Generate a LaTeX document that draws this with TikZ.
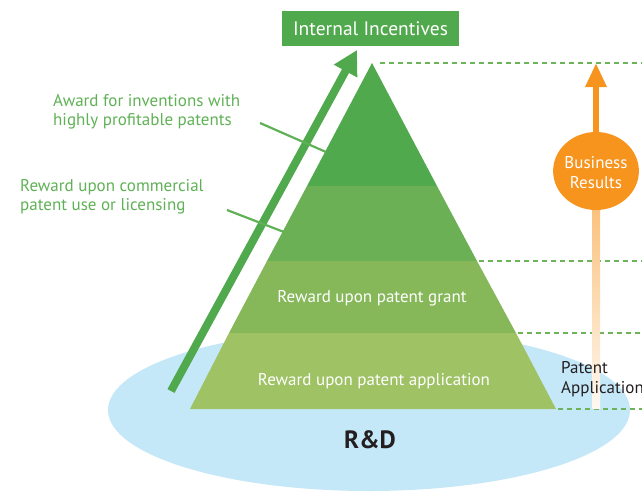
\documentclass[tikz,border=0pt]{standalone}
\usepackage{fontspec}
\setmainfont{PT Sans}
\usetikzlibrary{arrows.meta}
\definecolor{gA}{HTML}{50A94C}
\definecolor{gB}{HTML}{6BB055}
\definecolor{gC}{HTML}{86B85A}
\definecolor{gD}{HTML}{9EC264}
\definecolor{lblue}{HTML}{C5E8F8}
\definecolor{lblgreen}{HTML}{5FB155}
\definecolor{dashgreen}{HTML}{6DB35A}
\definecolor{orng}{HTML}{F7941E}
\definecolor{dark}{HTML}{231F20}
\tikzset{
  guide/.style={draw=dashgreen, line width=1.1pt, dash pattern=on 5pt off 4pt},
  leftlabel/.style={text=lblgreen, font=\fontsize{17}{19.5}\selectfont, align=left, anchor=west, inner sep=0pt},
  layertext/.style={text=white, font=\fontsize{17}{20}\selectfont, inner sep=0pt},
  pointer/.style={draw=lblgreen, line width=2.2pt}
}
\begin{document}
\begin{tikzpicture}[x=1pt,y=-1pt]
\useasboundingbox (0,0) rectangle (642,493);
% R&D ellipse
\fill[lblue] (369,410) ellipse [x radius=261, y radius=81];
\node[text=dark, font=\fontsize{25}{28}\selectfont\bfseries, inner sep=0pt] (rd) at (370,440) {R\&D};
% pyramid layers
\coordinate (apex) at (372,63);
\coordinate (bl) at (190,409);
\coordinate (br) at (556,409);
\fill[gA] (apex) -- (307,186) -- (437,186) -- cycle;
\fill[gB] (307,186) -- (437,186) -- (477,261) -- (267,261) -- cycle;
\fill[gC] (267,261) -- (477,261) -- (516,333) -- (229,333) -- cycle;
\fill[gD] (229,333) -- (516,333) -- (br) -- (bl) -- cycle;
\node[layertext] (grant) at (372,298) {Reward upon patent grant};
\node[layertext] (appl) at (374,381) {Reward upon patent application};
% dashed guides
\draw[guide] (380,63) -- (642,63);
\draw[guide] (479,261) -- (642,261);
\draw[guide] (518,333) -- (642,333);
\draw[guide] (558,409) -- (642,409);
% internal incentives box
\node[fill=gA, text=white, font=\fontsize{19.5}{22}\selectfont, minimum width=177pt, minimum height=35pt, inner sep=0pt] (inc) at (370.5,28.5) {Internal Incentives};
% big green arrow
\coordinate (gstart) at (171,391);
\coordinate (gtip) at (357,50);
\draw[gA, line width=8pt, -{Triangle[length=24pt,width=25pt]}] (gstart) -- (gtip);
% labels
\node[leftlabel] (aw) at (53,112) {Award for inventions with\\highly profitable patents};
\node[leftlabel] (rw) at (20,197) {Reward upon commercial\\patent use or licensing};
\coordinate (aw1) at (260,123);
\coordinate (aw2) at (326,152);
\coordinate (rw1) at (227,210);
\coordinate (rw2) at (284,232);
\draw[pointer] (aw1) -- (aw2);
\draw[pointer] (rw1) -- (rw2);
% orange arrow and circle
\shade[top color=orng!60, bottom color=orng!6] (592.5,200) rectangle (600,408);
\node[circle, fill=orng, minimum size=78pt, inner sep=0pt, xscale=1.1, text=white] (biz) at (596,171) {};
\node[text=white, font=\fontsize{17}{20}\selectfont, align=center, inner sep=0pt] (biztext) at (596,173) {Business\\Results};
\coordinate (otip) at (596,63);
\draw[orng, line width=6.5pt, -{Triangle[length=24pt,width=20pt]}] (biz.north) -- (otip);
% patent application
\node[text=dark, font=\fontsize{17}{20}\selectfont, align=left, anchor=west, inner sep=0pt] (pa) at (561,379) {Patent\\Application};
\end{tikzpicture}
\end{document}
